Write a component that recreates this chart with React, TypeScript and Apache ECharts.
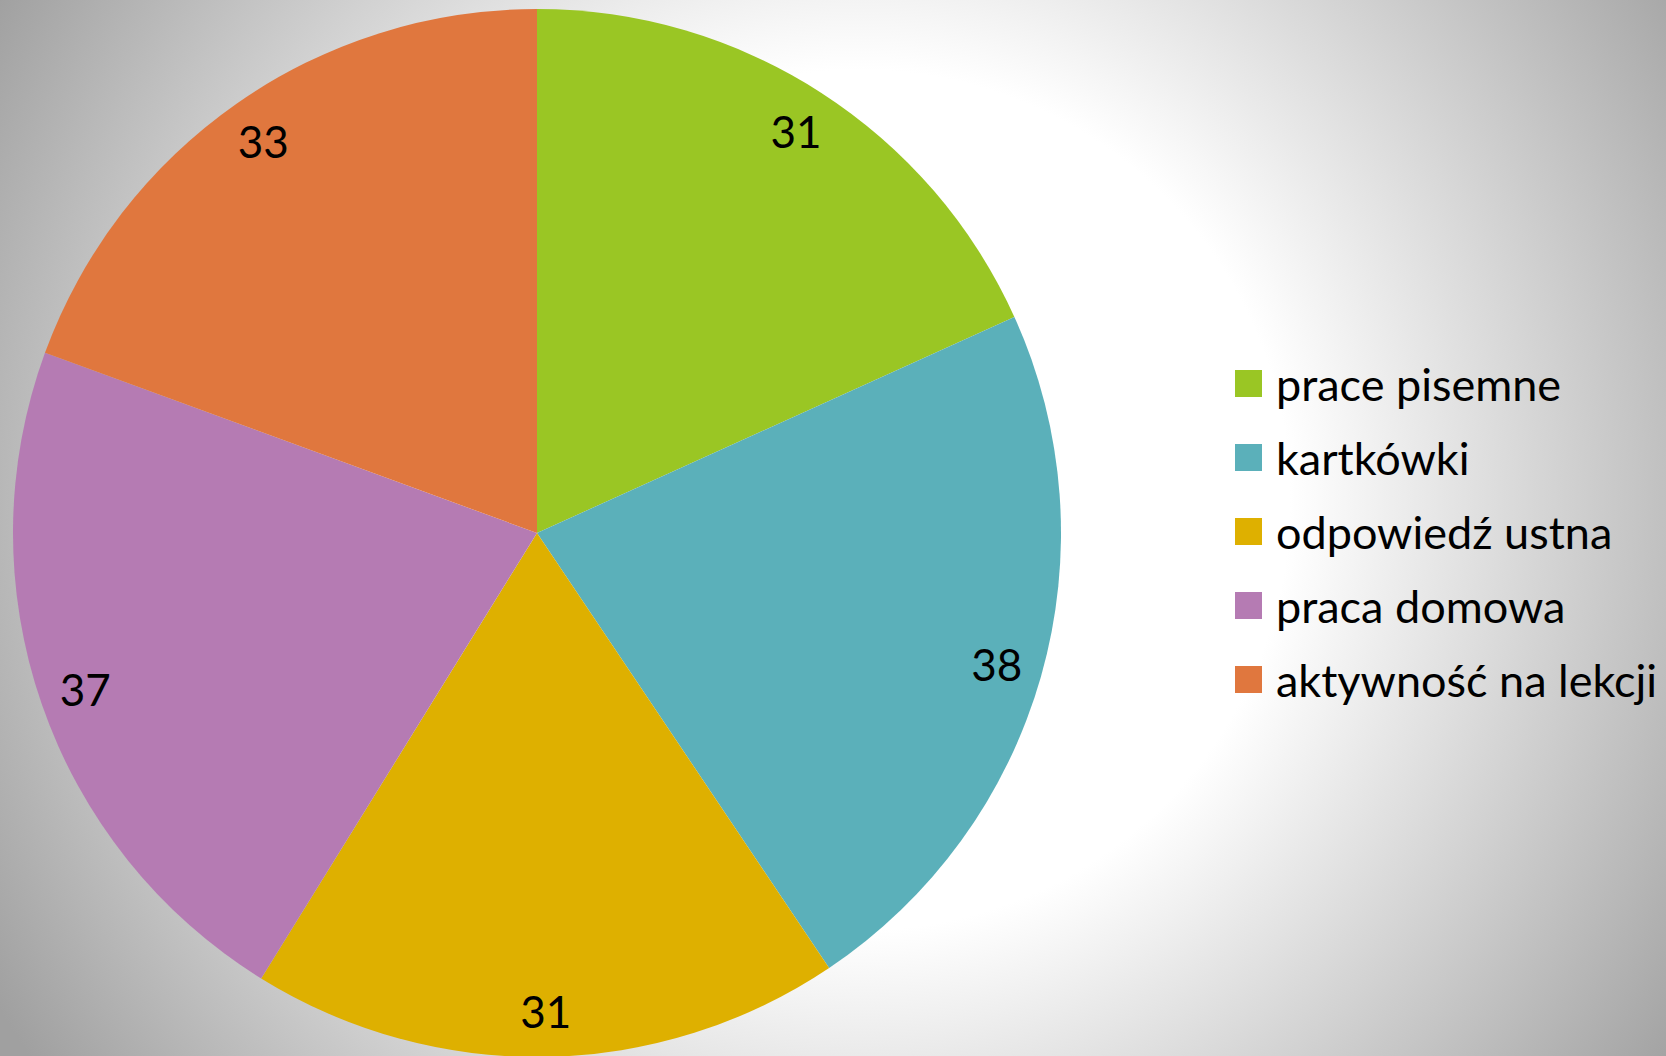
import React, { useEffect, useRef } from "react";
import * as echarts from "echarts";

const categories = ["prace pisemne", "kartkówki", "odpowiedź ustna", "praca domowa", "aktywność na lekcji"];
const values = [31, 38, 31, 37, 33];
const colors = ["#9AC624", "#5BB0BA", "#DEB000", "#B57BB3", "#E0773E"];

export default function App() {
  const ref = useRef<HTMLDivElement>(null);
  useEffect(() => {
    if (!ref.current) return;
    const chart = echarts.init(ref.current, undefined, { renderer: "svg" });
    const FONT = "Lato, 'Open Sans', sans-serif";
    const R = 524;
    chart.setOption({
      animation: false,
      backgroundColor: {
        type: "radial",
        x: 860,
        y: 500,
        r: 1000,
        global: true,
        colorStops: [
          { offset: 0, color: "#ffffff" },
          { offset: 0.43, color: "#ffffff" },
          { offset: 1, color: "#a0a0a0" },
        ],
      },
      legend: {
        orient: "vertical",
        left: 1230,
        top: 356,
        icon: "rect",
        itemWidth: 27,
        itemHeight: 27,
        itemGap: 29,
        selectedMode: false,
        data: categories,
        textStyle: {
          fontFamily: FONT,
          fontSize: 45,
          color: "#000",
          padding: [0, 0, 0, 9],
        },
      },
      series: [
        {
          type: "pie",
          center: [537, 533],
          radius: [0, R],
          startAngle: 90,
          clockwise: true,
          silent: true,
          label: { show: false },
          labelLine: { show: false },
          itemStyle: { borderWidth: 0 },
          data: categories.map((n, i) => ({ name: n, value: values[i], itemStyle: { color: colors[i] } })),
        },
        {
          type: "pie",
          center: [537, 533],
          radius: [R * 0.813, R],
          startAngle: 90,
          clockwise: true,
          silent: true,
          itemStyle: { color: "rgba(0,0,0,0)", borderWidth: 0 },
          label: {
            show: true,
            position: "inside",
            formatter: "{c}",
            fontFamily: FONT,
            fontSize: 44,
            color: "#000",
          },
          labelLine: { show: false },
          data: categories.map((n, i) => ({ name: n, value: values[i] })),
        },
      ],
    });
    return () => chart.dispose();
  }, []);
  return (
    <div
      ref={ref}
      style={{ position: "absolute", left: 0, top: 0, width: 1666, height: 1056 }}
    />
  );
}
